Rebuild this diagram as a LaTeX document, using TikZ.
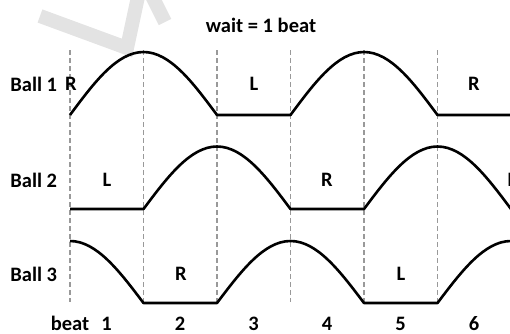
\documentclass[tikz,border=0pt]{standalone}
\usepackage{fontspec}
\setmainfont{Carlito}
\usetikzlibrary{positioning}
\tikzset{
  lbl/.style={font=\fontsize{10.25}{12}\selectfont\bfseries, inner sep=0pt},
  beatline/.style={gray!80, line width=0.7pt, dash pattern=on 2.6pt off 1.4pt},
  ballcurve/.style={black, line width=1.3pt, line join=round},
  watermark/.style={gray!22, line width=7pt}
}

\begin{document}
\begin{tikzpicture}[x=0.5pt, y=-0.5pt]
  \useasboundingbox (0,0) rectangle (510,333);
  % faint mark in the corner
  \draw[watermark] (40,16) -- (127,48) -- (139,-8);
  \draw[watermark] (150,-8) -- (165,22);
  % beat boundaries
  \foreach \i in {0,...,5}
    \draw[beatline] ({70+73.5*\i},50) -- ({70+73.5*\i},302);
  % the three balls
  \draw[ballcurve] (70,115) sin (143.5,52) cos (217,115) -- (290.5,115)
    sin (364,52) cos (437.5,115) -- (512,115);
  \draw[ballcurve] (70,209) -- (143.5,209) sin (217,146.5) cos (290.5,209)
    -- (364,209) sin (437.5,146.5) cos (511,209);
  \draw[ballcurve] (70,241) cos (143.5,303) -- (217,303) sin (290.5,241)
    cos (364,303) -- (437.5,303) sin (511,241);
  % labels
  \node[lbl] (title) at (261,25.5) {wait = 1 beat};
  \node[lbl, anchor=west] (ball1) at (10,84) {Ball 1};
  \node[lbl, anchor=west] (ball2) at (10,180) {Ball 2};
  \node[lbl, anchor=west] (ball3) at (10,274) {Ball 3};
  \node[lbl] (b1r) at (71,84) {R}; \node[lbl] (b1l) at (254,84) {L}; \node[lbl] (b1rr) at (474,84) {R};
  \node[lbl] (b2l) at (107,180) {L}; \node[lbl] (b2r) at (327,180) {R}; \node[lbl] (b2ll) at (512,180) {L};
  \node[lbl] (b3r) at (181,274) {R}; \node[lbl] (b3l) at (401,274) {L};
  \node[lbl] (beat) at (70,323.5) {beat};
  \foreach \n in {1,...,6}
    \node[lbl] (beat\n) at ({106.5+73.5*(\n-1)},323.5) {\n};
\end{tikzpicture}
\end{document}
